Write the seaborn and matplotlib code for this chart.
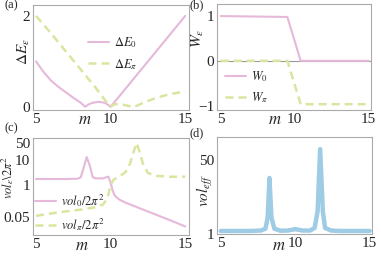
import matplotlib
matplotlib.use("Agg")
import matplotlib.pyplot as plt
import numpy as np
import pandas as pd
import seaborn as sns

sns.set_style("white")
plt.rcParams['font.family'] = ['Liberation Serif', 'DejaVu Serif']
plt.rcParams['mathtext.fontset'] = 'stix'
plt.rcParams['axes.unicode_minus'] = True

pink = "#E6B8DA"
green = "#D8E6A0"
blue = "#9ECCE4"
frame_col = "#AAAAAA"

# (a) energy gaps
m_e0 = [5, 5.5, 6, 6.5, 7, 7.5, 8, 8.3, 8.5, 8.8, 9.2, 9.6, 9.85, 10, 11, 12, 13, 14, 15]
dE0 = [1.0, 0.77, 0.58, 0.44, 0.32, 0.2, 0.09, 0.0, 0.05, 0.09, 0.11, 0.09, 0.04, 0.0, 0.4, 0.8, 1.2, 1.6, 2.0]
m_epi = [5, 6, 7, 8, 9, 9.5, 9.8, 10, 10.3, 10.8, 11.2, 11.6, 12, 12.5, 13, 13.5, 14, 14.5, 15]
dEpi = [2.0, 1.62, 1.22, 0.82, 0.42, 0.2, 0.08, 0.01, 0.06, 0.05, 0.02, 0.0, 0.06, 0.13, 0.19, 0.24, 0.28, 0.31, 0.33]

# (b) winding numbers
m_w = [5, 9.5, 10.4, 15]
W0 = [1.0, 0.98, 0.0, 0.0]
Wpi = [0.0, 0.0, -0.97, -0.97]

# (c) volumes
m_v0 = [5, 6, 7, 7.8, 8.0, 8.2, 8.4, 8.6, 8.8, 9.0, 9.5, 9.7, 9.85, 10.0, 10.15, 10.3, 10.6, 11, 11.5, 12, 13, 14, 15]
vol0 = [1.7, 1.7, 1.7, 1.75, 2.0, 5.0, 13.0, 6.0, 2.0, 1.8, 1.8, 2.0, 2.1, 1.2, 0.55, 0.35, 0.25, 0.19, 0.145, 0.11, 0.064, 0.037, 0.021]
m_vpi = [5, 6, 7, 8, 9, 9.5, 9.8, 10.0, 10.2, 10.6, 11.0, 11.3, 11.5, 11.75, 11.95, 12.2, 12.5, 13, 14, 15]
volpi = [0.056, 0.07, 0.085, 0.1, 0.125, 0.16, 0.3, 1.0, 1.6, 2.2, 3.2, 7.0, 18.0, 48.0, 20.0, 6.0, 3.0, 2.3, 2.1, 2.1]

# (d) effective volume
m_eff = [5, 6, 7, 7.7, 8.0, 8.15, 8.27, 8.4, 8.6, 9.0, 9.5, 10.0, 10.5, 11.0, 11.3, 11.5, 11.67, 11.85, 12.0, 12.4, 13, 14, 15]
vol_eff = [3, 3, 3, 3.3, 4.5, 12, 38, 12, 4.5, 3.2, 3.3, 4.2, 3.3, 3.3, 5, 16, 57, 16, 5, 3.3, 3, 3, 3]

fig = plt.figure(figsize=(3.81, 2.58), dpi=100)
ax_a = fig.add_axes([0.0866, 0.5736, 0.4094, 0.407])
ax_b = fig.add_axes([0.5696, 0.5736, 0.4042, 0.4109])
ax_c = fig.add_axes([0.0866, 0.0891, 0.4094, 0.376])
ax_d = fig.add_axes([0.5696, 0.093, 0.4068, 0.376])

dash = (0, (3.2, 2.0))

sns.lineplot(x=m_e0, y=dE0, ax=ax_a, color=pink, lw=1.5, label=r'$\Delta E_0$', sort=False)
sns.lineplot(x=m_epi, y=dEpi, ax=ax_a, color=green, lw=1.8, label=r'$\Delta E_\pi$', sort=False)
ax_a.lines[1].set_linestyle(dash)

ax_b.axhline(0, color="#999999", lw=0.8, zorder=0)
sns.lineplot(x=m_w, y=W0, ax=ax_b, color=pink, lw=1.5, label=r'$W_0$', sort=False)
sns.lineplot(x=m_w, y=Wpi, ax=ax_b, color=green, lw=1.8, label=r'$W_\pi$', sort=False)
ax_b.lines[-1].set_linestyle(dash)

sns.lineplot(x=m_v0, y=vol0, ax=ax_c, color=pink, lw=1.5, label=r'$vol_0/2\pi^2$', sort=False)
sns.lineplot(x=m_vpi, y=volpi, ax=ax_c, color=green, lw=1.8, label=r'$vol_\pi/2\pi^2$', sort=False)
ax_c.lines[1].set_linestyle(dash)
ax_c.set_yscale('log')

sns.lineplot(x=m_eff, y=vol_eff, ax=ax_d, color=blue, lw=3.2, sort=False)

ax_a.set_xlim(4.8, 15.25)
ax_a.set_ylim(-0.07, 2.24)
ax_a.set_yticks([0, 2])
ax_b.set_xlim(4.75, 15.15)
ax_b.set_ylim(-1.1, 1.27)
ax_b.set_yticks([-1, 0, 1])
ax_c.set_xlim(4.8, 15.25)
ax_c.set_ylim(0.0095, 76)
ax_c.set_yticks([0.05, 1, 10, 50])
ax_c.set_yticklabels(['0.05', '1', '10', '50'])
ax_c.minorticks_off()
ax_d.set_xlim(4.75, 15.15)
ax_d.set_ylim(1, 65)
ax_d.set_yticks([1, 50])

for ax in [ax_a, ax_b, ax_c, ax_d]:
    ax.set_xticks([5, 10, 15])
    ax.set_xlabel('')
    ax.set_ylabel('')
    for s in ax.spines.values():
        s.set_color(frame_col)
        s.set_linewidth(0.8)
    ax.tick_params(direction='in', length=2.5, width=0.6, color="#777777",
                   labelsize=11, pad=2)

# axis labels
ax_a.text(0.333, -0.095, r'$m$', transform=ax_a.transAxes, ha='center', va='center', fontsize=12)
ax_b.text(0.377, -0.094, r'$m$', transform=ax_b.transAxes, ha='center', va='center', fontsize=12)
ax_c.text(0.314, -0.113, r'$m$', transform=ax_c.transAxes, ha='center', va='center', fontsize=12)
ax_d.text(0.40, -0.124, r'$m$', transform=ax_d.transAxes, ha='center', va='center', fontsize=12)

ax_a.text(-0.055, 0.56, r'$\Delta E_\varepsilon$', transform=ax_a.transAxes, rotation=90, ha='center', va='center', fontsize=11)
ax_b.text(-0.123, 0.68, r'$W_\varepsilon$', transform=ax_b.transAxes, rotation=90, ha='center', va='center', fontsize=11)
ax_c.text(-0.162, 0.59, r'$vol_\varepsilon\backslash 2\pi^2$', transform=ax_c.transAxes, rotation=90, ha='center', va='center', fontsize=9)
ax_d.text(-0.077, 0.45, r'$vol_{eff}$', transform=ax_d.transAxes, rotation=90, ha='center', va='center', fontsize=11)

# panel tags
fig.text(0.029, 0.98, '(a)', ha='center', va='center', fontsize=9)
fig.text(0.517, 0.98, '(b)', ha='center', va='center', fontsize=9)
fig.text(0.029, 0.504, '(c)', ha='center', va='center', fontsize=9)
fig.text(0.517, 0.484, '(d)', ha='center', va='center', fontsize=9)

leg_kw = dict(frameon=False, fontsize=9, handlelength=1.7, handletextpad=0.35,
              borderpad=0, borderaxespad=0, labelspacing=0.55, loc='upper left')
ax_a.legend(bbox_to_anchor=(0.353, 0.714), **leg_kw)
ax_b.legend(bbox_to_anchor=(0.052, 0.387), **leg_kw)
ax_c.legend(bbox_to_anchor=(0.013, 0.44), **leg_kw)

fig.savefig("out.png", dpi=100)
